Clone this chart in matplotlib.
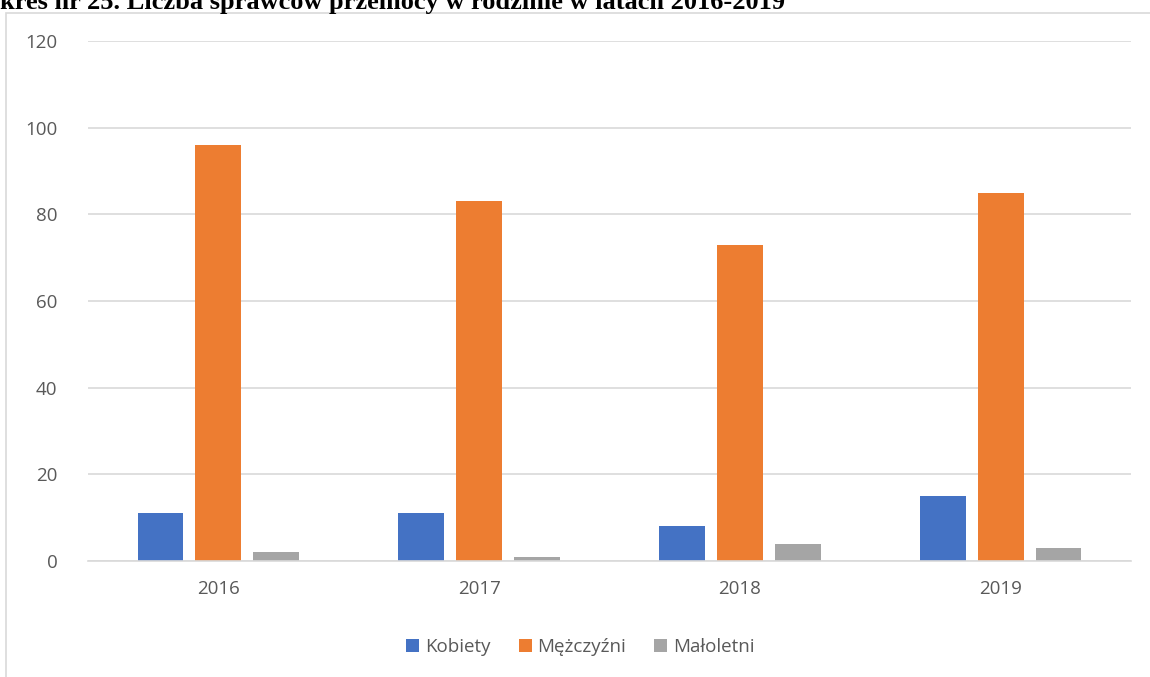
import numpy as np
import matplotlib.pyplot as plt
from matplotlib.patches import Rectangle

# dane
lata = ['2016', '2017', '2018', '2019']
kobiety = [11, 11, 8, 15]
mezczyzni = [96, 83, 73, 85]
maloletni = [2, 1, 4, 3]

serie = [('Kobiety', kobiety, '#4472C4'),
         ('Mężczyźni', mezczyzni, '#ED7D31'),
         ('Małoletni', maloletni, '#A5A5A5')]

W, H = 1150, 677
fig = plt.figure(figsize=(W / 100, H / 100), dpi=100)

# ramka wykresu
fig.patches.append(Rectangle((6 / W, -0.1), 1.2, (H - 13) / H + 0.1,
                             transform=fig.transFigure, fill=False,
                             edgecolor='#D9D9D9', linewidth=1.2))

ax = fig.add_axes([88 / W, (H - 561) / H, (1131 - 88) / W, (561 - 41) / H])

x = np.arange(len(lata))
szer = 0.176
krok = 0.222
for i, (nazwa, wart, kolor) in enumerate(serie):
    ax.bar(x + (i - 1) * krok, wart, szer, color=kolor, label=nazwa)

ax.set_xlim(-0.5, len(lata) - 0.5)
ax.set_ylim(0, 120)
ax.set_yticks(range(0, 121, 20))
ax.set_xticks(x)
ax.set_xticklabels(lata)
ax.yaxis.grid(True, color='#D9D9D9', linewidth=1.2)
ax.set_axisbelow(True)
for s in ['top', 'right', 'left']:
    ax.spines[s].set_visible(False)
ax.spines['bottom'].set_color('#D9D9D9')
ax.spines['bottom'].set_linewidth(1.2)
ax.tick_params(length=0, labelsize=13.5, labelcolor='#595959', pad=14)
ax.tick_params(axis='y', pad=22)
for lab in ax.get_xticklabels() + ax.get_yticklabels():
    lab.set_fontfamily('Open Sans')

leg = ax.legend(loc='center', bbox_to_anchor=(0.472, -0.165), ncol=3,
                frameon=False, handlelength=0.7, handleheight=0.7,
                handletextpad=0.3, columnspacing=1.5,
                prop={'family': 'Open Sans', 'size': 13.5})
for t in leg.get_texts():
    t.set_color('#595959')

fig.text(0, 1 - 9 / H, 'kres nr 25. Liczba sprawców przemocy w rodzinie w latach 2016-2019',
         family='Liberation Serif', weight='bold', fontsize=19, va='baseline', ha='left')

fig.savefig('out.png', dpi=100)
